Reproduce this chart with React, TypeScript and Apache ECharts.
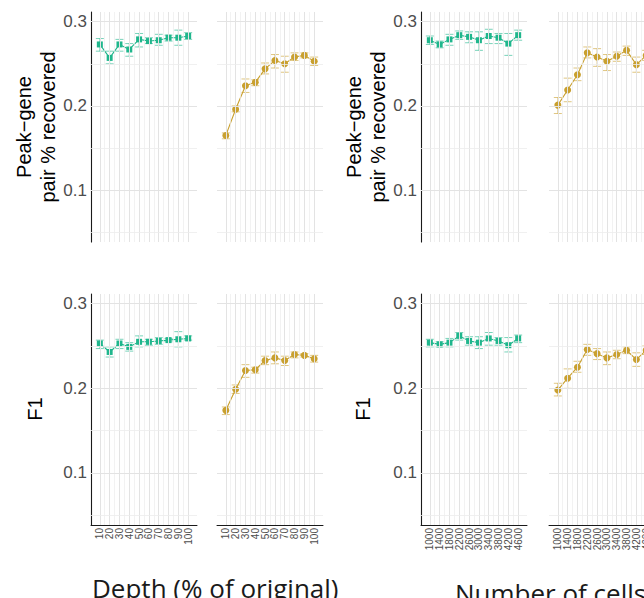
import React, { useEffect, useRef } from "react";
import * as echarts from "echarts";

// ---- categories ----
const depthCats = ["10", "20", "30", "40", "50", "60", "70", "80", "90", "100"];
const cellCats = ["1000", "1400", "1800", "2200", "2600", "3000", "3400", "3800", "4200", "4600"];

// ---- Peak-gene pair % recovered (top row) ----
const depthGreenRec = [0.273, 0.257, 0.273, 0.267, 0.279, 0.277, 0.278, 0.281, 0.281, 0.283];
const depthGreenRecLo = [0.265, 0.250, 0.265, 0.259, 0.270, 0.274, 0.272, 0.277, 0.272, 0.279];
const depthGreenRecHi = [0.280, 0.265, 0.279, 0.274, 0.286, 0.281, 0.285, 0.284, 0.290, 0.287];

const depthGoldRec = [0.165, 0.196, 0.224, 0.228, 0.244, 0.254, 0.250, 0.258, 0.260, 0.253];
const depthGoldRecLo = [0.161, 0.193, 0.216, 0.224, 0.238, 0.245, 0.240, 0.254, 0.257, 0.248];
const depthGoldRecHi = [0.168, 0.200, 0.232, 0.231, 0.251, 0.261, 0.259, 0.263, 0.263, 0.258];

const cellsGreenRec = [0.278, 0.273, 0.279, 0.284, 0.282, 0.278, 0.283, 0.281, 0.274, 0.284];
const cellsGreenRecLo = [0.273, 0.269, 0.272, 0.279, 0.275, 0.266, 0.274, 0.274, 0.260, 0.278];
const cellsGreenRecHi = [0.283, 0.277, 0.285, 0.289, 0.288, 0.288, 0.291, 0.286, 0.286, 0.290];

const cellsGoldRec = [0.201, 0.219, 0.237, 0.263, 0.258, 0.253, 0.259, 0.266, 0.249, 0.260];
const cellsGoldRecLo = [0.191, 0.205, 0.230, 0.257, 0.247, 0.242, 0.253, 0.260, 0.240, 0.254];
const cellsGoldRecHi = [0.210, 0.233, 0.245, 0.270, 0.268, 0.261, 0.264, 0.271, 0.258, 0.266];

// ---- F1 (bottom row) ----
const depthGreenF1 = [0.253, 0.243, 0.253, 0.249, 0.255, 0.255, 0.256, 0.257, 0.258, 0.259];
const depthGreenF1Lo = [0.247, 0.237, 0.247, 0.244, 0.249, 0.251, 0.252, 0.255, 0.249, 0.257];
const depthGreenF1Hi = [0.257, 0.249, 0.258, 0.254, 0.262, 0.258, 0.260, 0.259, 0.267, 0.262];

const depthGoldF1 = [0.174, 0.199, 0.221, 0.222, 0.233, 0.236, 0.233, 0.240, 0.239, 0.235];
const depthGoldF1Lo = [0.169, 0.194, 0.213, 0.218, 0.228, 0.229, 0.227, 0.236, 0.237, 0.231];
const depthGoldF1Hi = [0.178, 0.204, 0.228, 0.225, 0.238, 0.243, 0.238, 0.243, 0.241, 0.239];

const cellsGreenF1 = [0.254, 0.252, 0.254, 0.262, 0.256, 0.254, 0.259, 0.256, 0.251, 0.259];
const cellsGreenF1Lo = [0.249, 0.249, 0.249, 0.257, 0.251, 0.247, 0.251, 0.251, 0.243, 0.254];
const cellsGreenF1Hi = [0.258, 0.255, 0.259, 0.266, 0.261, 0.261, 0.266, 0.260, 0.260, 0.263];

const cellsGoldF1 = [0.198, 0.212, 0.225, 0.246, 0.241, 0.236, 0.240, 0.245, 0.234, 0.245];
const cellsGoldF1Lo = [0.191, 0.200, 0.219, 0.239, 0.234, 0.228, 0.235, 0.241, 0.226, 0.240];
const cellsGoldF1Hi = [0.206, 0.223, 0.232, 0.252, 0.247, 0.243, 0.245, 0.249, 0.242, 0.250];

const yTicks = [0.1, 0.2, 0.3];
const yMinorTicks = [0.05, 0.15, 0.25];

const GREEN = "#1fb68c";
const GREEN_ERR = "rgba(31,182,140,0.6)";
const GOLD = "#c9a02f";
const GOLD_ERR = "rgba(201,160,47,0.6)";

type Panel = {
  cats: string[];
  mean: number[];
  lo: number[];
  hi: number[];
  color: string;
  errColor: string;
  symbol: string;
  col: number;
  row: number;
};

const panels: Panel[] = [
  { cats: depthCats, mean: depthGreenRec, lo: depthGreenRecLo, hi: depthGreenRecHi, color: GREEN, errColor: GREEN_ERR, symbol: "rect", col: 0, row: 0 },
  { cats: depthCats, mean: depthGoldRec, lo: depthGoldRecLo, hi: depthGoldRecHi, color: GOLD, errColor: GOLD_ERR, symbol: "circle", col: 1, row: 0 },
  { cats: cellCats, mean: cellsGreenRec, lo: cellsGreenRecLo, hi: cellsGreenRecHi, color: GREEN, errColor: GREEN_ERR, symbol: "rect", col: 2, row: 0 },
  { cats: cellCats, mean: cellsGoldRec, lo: cellsGoldRecLo, hi: cellsGoldRecHi, color: GOLD, errColor: GOLD_ERR, symbol: "circle", col: 3, row: 0 },
  { cats: depthCats, mean: depthGreenF1, lo: depthGreenF1Lo, hi: depthGreenF1Hi, color: GREEN, errColor: GREEN_ERR, symbol: "rect", col: 0, row: 1 },
  { cats: depthCats, mean: depthGoldF1, lo: depthGoldF1Lo, hi: depthGoldF1Hi, color: GOLD, errColor: GOLD_ERR, symbol: "circle", col: 1, row: 1 },
  { cats: cellCats, mean: cellsGreenF1, lo: cellsGreenF1Lo, hi: cellsGreenF1Hi, color: GREEN, errColor: GREEN_ERR, symbol: "rect", col: 2, row: 1 },
  { cats: cellCats, mean: cellsGoldF1, lo: cellsGoldF1Lo, hi: cellsGoldF1Hi, color: GOLD, errColor: GOLD_ERR, symbol: "circle", col: 3, row: 1 },
];

const colLeft = [91, 217, 421, 549];
const panelW = 106;
const rowTop = [12, 294];
const rowH = [230, 231];

function buildOption() {
  const grid: any[] = [];
  const xAxis: any[] = [];
  const yAxis: any[] = [];
  const series: any[] = [];

  panels.forEach((p, i) => {
    grid.push({ left: colLeft[p.col], top: rowTop[p.row], width: panelW, height: rowH[p.row], containLabel: false });
    const idx = p.cats.map((_, k) => k);
    const showY = p.col === 0 || p.col === 2;
    const bottom = p.row === 1;
    xAxis.push({
      type: "value",
      gridIndex: i,
      min: -0.9,
      max: p.cats.length - 0.1,
      splitLine: { show: false },
      axisTick: { show: false },
      axisLine: { show: bottom, onZero: false, lineStyle: { color: "#1a1a1a", width: 1 } },
      axisLabel: {
        show: bottom,
        customValues: idx,
        showMinLabel: true,
        showMaxLabel: true,
        hideOverlap: false,
        formatter: (v: number) => p.cats[Math.round(v)] ?? "",
        rotate: 90,
        fontSize: 10,
        fontFamily: "Liberation Sans",
        color: "#4d4d4d",
        margin: 3,
      },
    });
    yAxis.push({
      type: "value",
      gridIndex: i,
      min: 0.0385,
      max: 0.3115,
      splitLine: { show: false },
      axisTick: { show: false },
      axisLine: { show: showY, onZero: false, lineStyle: { color: "#1a1a1a", width: 1.1 } },
      axisLabel: {
        show: showY,
        customValues: yTicks,
        formatter: (v: number) => v.toFixed(1),
        fontSize: 17,
        fontFamily: "Liberation Sans",
        color: "#4d4d4d",
        margin: 4,
      },
    });

    // grid lines as mark lines
    const vLines: any[] = [];
    for (let k = 0; k < p.cats.length; k++) {
      vLines.push({ xAxis: k, lineStyle: { color: "#e3e3e3", width: 1, type: "solid" } });
      if (k < p.cats.length - 1) vLines.push({ xAxis: k + 0.5, lineStyle: { color: "#ececec", width: 0.7, type: "solid" } });
    }
    const hLines = [
      ...yTicks.map((v) => ({ yAxis: v, lineStyle: { color: "#e3e3e3", width: 1, type: "solid" } })),
      ...yMinorTicks.map((v) => ({ yAxis: v, lineStyle: { color: "#ececec", width: 0.8, type: "solid" } })),
    ];
    series.push({
      type: "line",
      xAxisIndex: i,
      yAxisIndex: i,
      data: [],
      z: 0,
      silent: true,
      markLine: {
        silent: true,
        symbol: ["none", "none"],
        label: { show: false },
        emphasis: { disabled: true },
        animation: false,
        data: [...vLines, ...hLines],
      },
    });

    // error bars
    series.push({
      type: "custom",
      xAxisIndex: i,
      yAxisIndex: i,
      z: 2,
      silent: true,
      data: idx.map((k) => [k, p.lo[k], p.hi[k]]),
      encode: { x: 0, y: [1, 2] },
      renderItem: (params: any, api: any) => {
        const x = api.value(0);
        const a = api.coord([x, api.value(1)]);
        const b = api.coord([x, api.value(2)]);
        const hw = 4;
        const st = { stroke: p.errColor, lineWidth: 1, fill: "none" };
        return {
          type: "group",
          children: [
            { type: "line", shape: { x1: a[0], y1: a[1], x2: b[0], y2: b[1] }, style: st },
            { type: "line", shape: { x1: a[0] - hw, y1: a[1], x2: a[0] + hw, y2: a[1] }, style: st },
            { type: "line", shape: { x1: b[0] - hw, y1: b[1], x2: b[0] + hw, y2: b[1] }, style: st },
          ],
        };
      },
    });

    // line + points
    series.push({
      type: "line",
      xAxisIndex: i,
      yAxisIndex: i,
      z: 3,
      data: idx.map((k) => [k, p.mean[k]]),
      symbol: p.symbol,
      symbolSize: p.symbol === "rect" ? 6 : 7,
      showSymbol: true,
      lineStyle: { color: p.color, width: 1.1 },
      itemStyle: { color: p.color },
      emphasis: { disabled: true },
    });
  });

  const titleFont = '"Liberation Sans"';
  const graphic: any[] = [
    { type: "text", x: 36, y: 127, rotation: Math.PI / 2, style: { text: "Peak\u2212gene\npair % recovered", fontSize: 20, fontFamily: titleFont, fill: "#000", align: "center", verticalAlign: "middle", lineHeight: 24 } },
    { type: "text", x: 366, y: 127, rotation: Math.PI / 2, style: { text: "Peak\u2212gene\npair % recovered", fontSize: 20, fontFamily: titleFont, fill: "#000", align: "center", verticalAlign: "middle", lineHeight: 24 } },
    { type: "text", x: 35, y: 409, rotation: Math.PI / 2, style: { text: "F1", fontSize: 20, fontFamily: titleFont, fill: "#000", align: "center", verticalAlign: "middle" } },
    { type: "text", x: 363, y: 409, rotation: Math.PI / 2, style: { text: "F1", fontSize: 20, fontFamily: titleFont, fill: "#000", align: "center", verticalAlign: "middle" } },
    { type: "text", x: 92, y: 588, style: { text: "Depth (% of original)", fontSize: 26, fontFamily: '"Open Sans"', fill: "#1a1a1a", align: "left", verticalAlign: "middle" } },
    { type: "text", x: 455, y: 593, style: { text: "Number of cells", fontSize: 26, fontFamily: '"Open Sans"', fill: "#1a1a1a", align: "left", verticalAlign: "middle" } },
  ];

  return {
    animation: false,
    backgroundColor: "#ffffff",
    grid,
    xAxis,
    yAxis,
    series,
    graphic,
  };
}

export default function App() {
  const ref = useRef<HTMLDivElement>(null);
  useEffect(() => {
    if (!ref.current) return;
    const chart = echarts.init(ref.current, undefined, { renderer: "svg" });
    chart.setOption(buildOption() as any);
    return () => chart.dispose();
  }, []);
  return (
    <div style={{ position: "fixed", left: 0, top: 0, width: 644, height: 598, overflow: "hidden" }}>
      <div ref={ref} style={{ width: 720, height: 598 }} />
    </div>
  );
}
